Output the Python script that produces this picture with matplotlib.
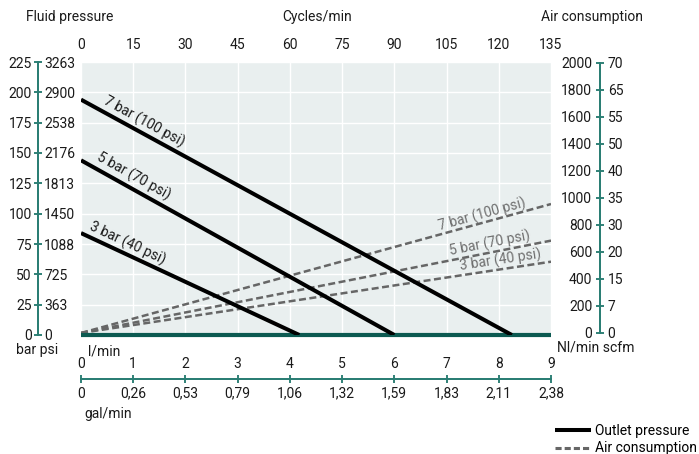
import numpy as np
import matplotlib
matplotlib.use('Agg')
import matplotlib.pyplot as plt
from matplotlib.lines import Line2D

plt.rcParams['font.family'] = ['Liberation Sans Narrow', 'Roboto', 'DejaVu Sans']
plt.rcParams['font.size'] = 10

# ---------------- data ----------------
lpm_ticks = [0, 1, 2, 3, 4, 5, 6, 7, 8, 9]
gal_labels = ['0', '0,26', '0,53', '0,79', '1,06', '1,32', '1,59', '1,83', '2,11', '2,38']
cycles_ticks = [0, 15, 30, 45, 60, 75, 90, 105, 120, 135]
CYCLES_PER_LPM = 15
bar_ticks = [0, 25, 50, 75, 100, 125, 150, 175, 200, 225]
psi_labels = ['0', '363', '725', '1088', '1450', '1813', '2176', '2538', '2900', '3263']
nl_ticks = [0, 200, 400, 600, 800, 1000, 1200, 1400, 1600, 1800, 2000]
scfm_labels = ['0', '7', '15', '20', '30', '35', '40', '50', '55', '65', '70']

series_labels = ['7 bar (100 psi)', '5 bar (70 psi)', '3 bar (40 psi)']
outlet_x = [[0, 8.25], [0, 6.0], [0, 4.18]]
outlet_bar = [[194, 0], [144, 0], [84, 0]]
air_x = [0, 9]
air_nl = [[0, 955], [0, 684], [0, 528]]

legend_labels = ['Outlet pressure', 'Air consumption']

# ---------------- style ----------------
TEAL = '#2a7d73'
TEAL_DARK = '#0c5a51'
BG = '#e9efef'
TXT = '#1a1a1a'
DASH = '#666666'
DASH_TXT = '#6e6e6e'

W, H = 699, 454
fig = plt.figure(figsize=(W / 100, H / 100), dpi=100)
L, R, T, B = 81, 551, 62, 335
rect = [L / W, 1 - B / H, (R - L) / W, (B - T) / H]

ax_bg = fig.add_axes(rect)
ax_bg.set_facecolor(BG)
ax_bg.set_xlim(0, 9)
ax_bg.set_ylim(0, 225)
ax_bg.set_xticks(lpm_ticks)
ax_bg.set_yticks(bar_ticks)
ax_bg.grid(True, color='white', lw=1.0)
ax_bg.tick_params(length=0, labelbottom=False, labelleft=False)
for s in ax_bg.spines.values():
    s.set_visible(False)


def hide(a):
    for s in a.spines.values():
        s.set_visible(False)
    a.tick_params(left=False, right=False, labelleft=False, labelright=False,
                  bottom=False, labelbottom=False)


ax_air = ax_bg.twinx()
ax_air.set_ylim(-15, 2007)
hide(ax_air)

ax_p = ax_bg.twinx()
ax_p.set_ylim(0, 225)
hide(ax_p)

# teal baseline
ax_p.axhline(0, color=TEAL_DARK, lw=3.0, clip_on=False, solid_capstyle='butt', zorder=3)

# air consumption (dashed)
dashed_lines = []
for yv in air_nl:
    ln, = ax_air.plot(air_x, yv, color=DASH, lw=1.8, dashes=(2.8, 1.4))
    dashed_lines.append(ln)

# outlet pressure (solid)
solid_lines = []
for xv, yv in zip(outlet_x, outlet_bar):
    ln, = ax_p.plot(xv, yv, color='black', lw=2.9, solid_capstyle='butt', zorder=4)
    solid_lines.append(ln)


def label_on_line(ax, xs, ys, xf, d_px, text, color):
    yf = np.interp(xf, xs, ys)
    p0 = ax.transData.transform((xs[0], ys[0]))
    p1 = ax.transData.transform((xs[-1], ys[-1]))
    th = np.arctan2(p1[1] - p0[1], p1[0] - p0[0])
    d = d_px * 0.72
    ax.annotate(text, xy=(xf, yf), xytext=(-np.sin(th) * d, np.cos(th) * d),
                textcoords='offset points', rotation=np.degrees(th),
                rotation_mode='anchor', ha='center', va='center', color=color,
                fontsize=10, zorder=5)


for (xv, yv), lab, xf, d in zip(zip(outlet_x, outlet_bar), series_labels,
                                [1.11, 0.90, 0.81], [10.5, 12.0, 10.9]):
    label_on_line(ax_p, xv, yv, xf, d, lab, TXT)

for yv, lab, xf, d in zip(air_nl, series_labels, [7.72, 7.86, 8.05], [7.7, 8.8, 9.5]):
    label_on_line(ax_air, air_x, yv, xf, d, lab, DASH_TXT)

# ---------------- left scale (bar / psi) ----------------
loc_left = (38 - L) / (R - L)
sec_bar = ax_p.secondary_yaxis(loc_left)
sec_bar.set_yticks(bar_ticks, labels=[str(v) for v in bar_ticks])
sec_psi = ax_p.secondary_yaxis(loc_left)
sec_psi.set_alignment('right')
sec_psi.set_yticks(bar_ticks, labels=psi_labels)
for sa in (sec_bar, sec_psi):
    for s in sa.spines.values():
        s.set_color(TEAL)
        s.set_linewidth(1.3)
    sa.tick_params(axis='y', direction='inout', length=6, width=1.1, color=TEAL,
                   pad=1.5, labelcolor=TXT, labelsize=10)

# ---------------- right scale (Nl/min / scfm) ----------------
loc_right = (600 - L) / (R - L)
sec_nl = ax_air.secondary_yaxis(loc_right)
sec_nl.set_alignment('left')
sec_nl.set_yticks(nl_ticks, labels=[str(v) for v in nl_ticks])
sec_scfm = ax_air.secondary_yaxis(loc_right)
sec_scfm.set_yticks(nl_ticks, labels=scfm_labels)
for sa in (sec_nl, sec_scfm):
    for s in sa.spines.values():
        s.set_color(TEAL)
        s.set_linewidth(1.3)
        s.set_bounds(0, 2000)
    sa.tick_params(axis='y', direction='inout', length=6, width=1.1, color=TEAL,
                   pad=2.5, labelcolor=TXT, labelsize=10)

# ---------------- top scale (cycles/min) ----------------
sec_top = ax_p.secondary_xaxis('top', functions=(lambda x: x * CYCLES_PER_LPM,
                                                  lambda c: c / CYCLES_PER_LPM))
sec_top.set_xticks(cycles_ticks, labels=[str(v) for v in cycles_ticks])
for s in sec_top.spines.values():
    s.set_visible(False)
sec_top.tick_params(axis='x', length=0, pad=7, labelcolor=TXT, labelsize=10)

# ---------------- bottom scale (l/min / gal/min) ----------------
loc_bot = -(379 - B) / (B - T)
sec_lpm = ax_p.secondary_xaxis(loc_bot)
sec_lpm.set_alignment('top')
sec_lpm.set_xticks(lpm_ticks, labels=[str(v) for v in lpm_ticks])
sec_gal = ax_p.secondary_xaxis(loc_bot)
sec_gal.set_xticks(lpm_ticks, labels=gal_labels)
for sa in (sec_lpm, sec_gal):
    for s in sa.spines.values():
        s.set_color(TEAL)
        s.set_linewidth(1.3)
sec_lpm.tick_params(axis='x', direction='inout', length=6, width=1.1, color=TEAL,
                    pad=2.5, labelcolor=TXT, labelsize=10)
sec_gal.tick_params(axis='x', direction='inout', length=6, width=1.1, color=TEAL,
                    pad=2.5, labelcolor=TXT, labelsize=10)

# ---------------- titles / unit labels ----------------
def ftext(x, y, s, ha='center'):
    fig.text(x / W, 1 - y / H, s, ha=ha, va='center', color=TXT, fontsize=10)


ftext(70, 17, 'Fluid pressure')
ftext(317, 17, 'Cycles/min')
ftext(592, 17, 'Air consumption')
ftext(37, 350, 'bar psi')
ftext(104, 352, 'l/min')
ftext(108, 414, 'gal/min')
ftext(596, 348, 'Nl/min scfm')

# ---------------- legend ----------------
h_solid = Line2D([], [], color='black', lw=2.9, solid_capstyle='butt')
h_dash = Line2D([], [], color=DASH, lw=2.2, dashes=(2.0, 1.0))
fig.legend([h_solid, h_dash], legend_labels, loc='upper left',
           bbox_to_anchor=(555 / W, 1 - 424 / H), frameon=False,
           handlelength=2.6, handletextpad=0.3, labelspacing=0.25,
           borderpad=0, borderaxespad=0, fontsize=10)

fig.savefig('out.png', dpi=100)
